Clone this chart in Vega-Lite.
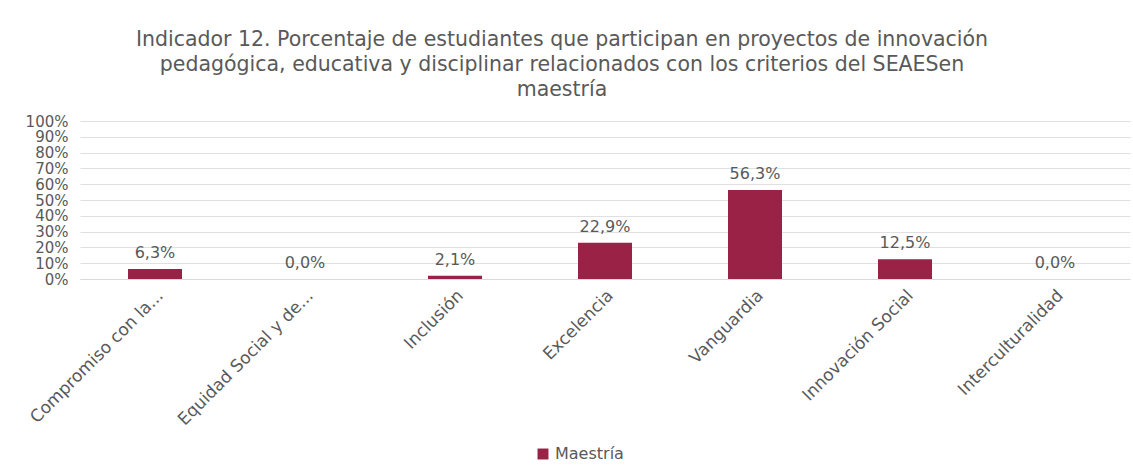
{
  "$schema": "https://vega.github.io/schema/vega-lite/v6.json",
  "autosize": "none",
  "width": 1050,
  "height": 158,
  "padding": {"left": 80, "top": 121, "right": 3, "bottom": 189},
  "background": "white",
  "config": {
    "locale": {"number": {"decimal": ",", "thousands": ".", "grouping": [3], "currency": ["$", ""]}},
    "font": "DejaVu Sans",
    "view": {"stroke": null}
  },
  "title": {
    "text": ["Indicador 12. Porcentaje de estudiantes que participan en proyectos de innovación", "pedagógica, educativa y disciplinar relacionados con los criterios del SEAESen", "maestría"],
    "anchor": "middle",
    "frame": "group",
    "dx": -43,
    "fontSize": 20.5,
    "fontWeight": "normal",
    "color": "#595959",
    "lineHeight": 25,
    "offset": 14
  },
  "data": {
    "values": [
      {"criterio": "Compromiso con la...", "valor": 0.063, "serie": "Maestría"},
      {"criterio": "Equidad Social y de...", "valor": 0.0, "serie": "Maestría"},
      {"criterio": "Inclusión", "valor": 0.021, "serie": "Maestría"},
      {"criterio": "Excelencia", "valor": 0.229, "serie": "Maestría"},
      {"criterio": "Vanguardia", "valor": 0.563, "serie": "Maestría"},
      {"criterio": "Innovación Social", "valor": 0.125, "serie": "Maestría"},
      {"criterio": "Interculturalidad", "valor": 0.0, "serie": "Maestría"}
    ]
  },
  "encoding": {
    "x": {
      "field": "criterio",
      "type": "nominal",
      "sort": null,
      "title": null,
      "scale": {"paddingInner": 0.64, "paddingOuter": 0.32},
      "axis": {
        "labelAngle": -45,
        "labelFontSize": 17,
        "labelColor": "#595959",
        "labelPadding": 8,
        "ticks": false,
        "domainColor": "#d9d9d9",
        "labelLimit": 300
      }
    },
    "y": {
      "field": "valor",
      "type": "quantitative",
      "title": null,
      "scale": {"domain": [0, 1]},
      "axis": {
        "values": [0, 0.1, 0.2, 0.3, 0.4, 0.5, 0.6, 0.7, 0.8, 0.9, 1],
        "format": ".0%",
        "labelFontSize": 15,
        "labelColor": "#595959",
        "labelPadding": 12,
        "labelOverlap": false,
        "ticks": false,
        "domain": false,
        "gridColor": "#e0e0e0",
        "labelBaseline": "middle"
      }
    }
  },
  "layer": [
    {
      "mark": {"type": "bar", "color": "#9B2247"},
      "encoding": {
        "color": {
          "field": "serie",
          "type": "nominal",
          "scale": {"range": ["#9B2247"]},
          "legend": {
            "title": null,
            "orient": "none",
            "legendX": 455,
            "legendY": 325,
            "symbolType": "square",
            "symbolSize": 120,
            "labelFontSize": 16,
            "labelColor": "#595959",
            "labelOffset": 4
          }
        }
      }
    },
    {
      "mark": {"type": "text", "baseline": "bottom", "dy": -8, "fontSize": 16, "color": "#595959"},
      "encoding": {
        "text": {"field": "valor", "type": "quantitative", "format": ".1%"}
      }
    }
  ]
}
